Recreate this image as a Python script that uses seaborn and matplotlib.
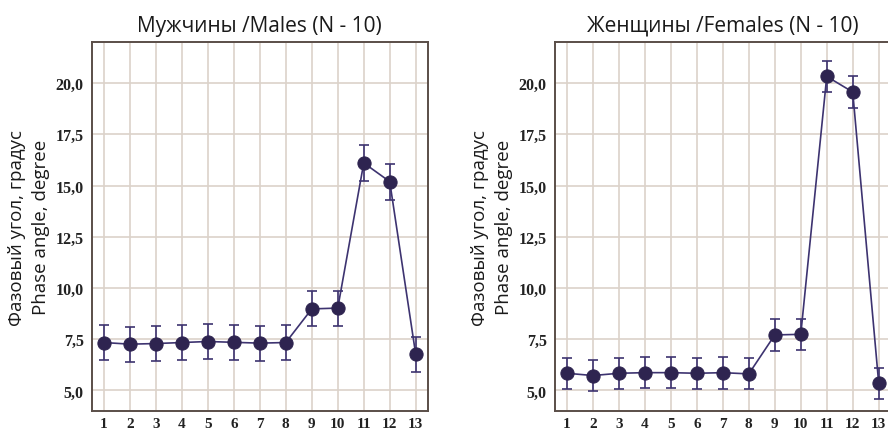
import matplotlib as mpl
mpl.use('Agg')
import matplotlib.pyplot as plt
import matplotlib.ticker as ticker
import numpy as np
import pandas as pd
import seaborn as sns

# data
stages = list(range(1, 14))
males_mean = [7.34, 7.26, 7.29, 7.34, 7.39, 7.35, 7.31, 7.34, 8.98, 9.02, 16.10, 15.19, 6.76]
males_err = [0.87, 0.86, 0.86, 0.87, 0.87, 0.86, 0.86, 0.86, 0.85, 0.85, 0.86, 0.88, 0.86]
females_mean = [5.84, 5.73, 5.84, 5.87, 5.87, 5.84, 5.87, 5.81, 7.71, 7.74, 20.32, 19.56, 5.35]
females_err = [0.76, 0.75, 0.76, 0.76, 0.77, 0.76, 0.78, 0.76, 0.76, 0.77, 0.76, 0.76, 0.75]

titles = ["Мужчины /Males (N - 10)", "Женщины /Females (N - 10)"]
ylabel = "Фазовый угол, градус\nPhase angle, degree"

sns.set_style("white")
plt.rcParams['font.family'] = ['Open Sans', 'DejaVu Sans']

line_col = '#3d3370'
mark_col = '#2e2450'
grid_col = '#dbd2ca'
spine_col = '#5a4e48'

fig = plt.figure(figsize=(8.88, 4.31), dpi=100)
axes = [fig.add_axes([0.1036, 0.0441, 0.378, 0.8561]),
        fig.add_axes([0.625, 0.0441, 0.378, 0.8561])]

for ax, title, mean, err in zip(axes, titles,
                                [males_mean, females_mean],
                                [males_err, females_err]):
    df = pd.DataFrame({'stage': stages, 'value': mean, 'err': err})
    ax.errorbar(df['stage'], df['value'], yerr=df['err'], fmt='none',
                ecolor=line_col, elinewidth=1.2, capsize=3.8, capthick=1.2, zorder=3)
    sns.lineplot(data=df, x='stage', y='value', ax=ax, color=line_col,
                 marker='o', markersize=9.5, markeredgecolor=mark_col,
                 markerfacecolor=mark_col, linewidth=1.2, zorder=4)
    ax.set_xlim(0.54, 13.46)
    ax.set_ylim(4.0, 22.0)
    ax.set_xticks(stages)
    ax.set_yticks([5, 7.5, 10, 12.5, 15, 17.5, 20])
    ax.yaxis.set_major_formatter(ticker.FuncFormatter(lambda v, p: f"{v:.1f}".replace('.', ',')))
    ax.grid(True, color=grid_col, linewidth=1.2)
    ax.set_axisbelow(True)
    for s in ax.spines.values():
        s.set_color(spine_col)
        s.set_linewidth(1.4)
    ax.tick_params(axis='y', length=4, width=1, color=spine_col, pad=2)
    ax.tick_params(axis='x', length=3, width=1, color=spine_col, pad=1.5)
    for lab in ax.get_xticklabels() + ax.get_yticklabels():
        lab.set_fontfamily('Liberation Serif')
        lab.set_fontweight('bold')
        lab.set_fontsize(11.5)
        lab.set_color('#222222')
    for lab in ax.get_xticklabels():
        lab.set_fontsize(11)
    ax.set_title(title, fontsize=15, color='#1a1a1a', pad=8)
    ax.set_xlabel('')
    ax.set_ylabel(ylabel, fontsize=13.5, color='#1a1a1a', linespacing=1.4, labelpad=4)

fig.savefig('out.png', dpi=100)
